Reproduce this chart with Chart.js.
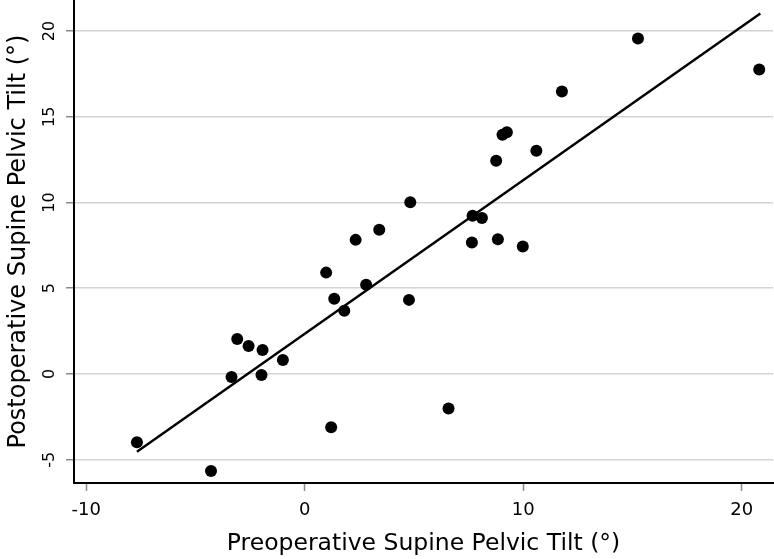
<!DOCTYPE html>
<html>
<head>
<meta charset="utf-8">
<script src="https://cdn.jsdelivr.net/npm/chart.js@4.4.1/dist/chart.umd.min.js"></script>
<style>
  html, body { margin: 0; padding: 0; background: #ffffff; }
  #wrap { width: 774px; height: 559px; }
</style>
</head>
<body>
<div id="wrap"><canvas id="myChart" width="774" height="559"></canvas></div>
<script>
// Preoperative vs postoperative supine pelvic tilt (degrees)
const preTilt = [4.83, 3.41, 2.33, 15.25, 20.8, 11.77, 9.05, 9.25, 10.6, 8.76,
                 7.68, 8.11, 7.65, 8.84, 9.98, 0.98, 2.81, 1.35, 1.81, 4.77,
                 -3.09, -2.57, -1.93, -1.0, -3.35, -1.98, 1.21, -7.68, -4.29, 6.58];
const postTilt = [10.02, 8.41, 7.82, 19.56, 17.75, 16.48, 13.95, 14.09, 13.02, 12.43,
                  9.22, 9.09, 7.67, 7.86, 7.43, 5.91, 5.20, 4.38, 3.68, 4.32,
                  2.04, 1.63, 1.40, 0.82, -0.18, -0.06, -3.11, -3.99, -5.66, -2.02];
// fitted line end points
const fitX = [-7.68, 20.85];
const fitY = [-4.54, 21.02];
const xTicks = [-10, 0, 10, 20];
const yTicks = [-5, 0, 5, 10, 15, 20];

const points = preTilt.map((x, i) => ({x: x, y: postTilt[i]}));
const fitLine = fitX.map((x, i) => ({x: x, y: fitY[i]}));

const ctx = document.getElementById('myChart').getContext('2d');
new Chart(ctx, {
    type: 'scatter',
    data: {
        datasets: [{
            type: 'line',
            data: fitLine,
            borderColor: '#000000',
            borderWidth: 2.4,
            pointRadius: 0,
            fill: false
        }, {
            data: points,
            backgroundColor: '#000000',
            borderWidth: 0,
            pointRadius: 6,
            pointHoverRadius: 6
        }]
    },
    options: {
        responsive: false,
        animation: false,
        events: [],
        layout: { autoPadding: false, padding: { left: 0, right: 1, top: 0, bottom: 0 } },
        plugins: {
            legend: { display: false },
            tooltip: { enabled: false }
        },
        scales: {
            x: {
                type: 'linear',
                min: -10.56,
                max: 21.43,
                afterFit: function(scale) {
                    scale.height = 76;
                    scale.paddingLeft = 0;
                    scale.paddingRight = 0;
                },
                afterBuildTicks: function(scale) {
                    scale.ticks = xTicks.map(v => ({value: v}));
                },
                border: { display: true, color: '#000000', width: 2 },
                grid: {
                    drawOnChartArea: false,
                    drawTicks: true,
                    tickLength: 8,
                    tickColor: '#8a8a8a',
                    tickWidth: 1.5
                },
                ticks: {
                    color: '#000000',
                    padding: 9,
                    maxRotation: 0,
                    font: { family: 'DejaVu Sans', size: 18 }
                },
                title: {
                    display: true,
                    text: 'Preoperative Supine Pelvic Tilt (°)',
                    color: '#000000',
                    font: { family: 'DejaVu Sans', size: 23.5, lineHeight: 1 },
                    padding: { top: 0, bottom: 3 }
                }
            },
            y: {
                type: 'linear',
                min: -6.36,
                max: 21.81,
                afterFit: function(scale) {
                    scale.width = 74;
                    scale.paddingTop = 0;
                    scale.paddingBottom = 0;
                },
                afterBuildTicks: function(scale) {
                    scale.ticks = yTicks.map(v => ({value: v}));
                },
                border: { display: true, color: '#000000', width: 2 },
                grid: {
                    color: '#d4d4d4',
                    lineWidth: 1.5,
                    drawTicks: true,
                    tickLength: 8,
                    tickColor: '#8a8a8a',
                    tickWidth: 1.5
                },
                ticks: {
                    color: '#000000',
                    padding: 6,
                    minRotation: 90,
                    maxRotation: 90,
                    crossAlign: 'center',
                    font: { family: 'DejaVu Sans', size: 16 }
                },
                title: {
                    display: true,
                    text: 'Postoperative Supine Pelvic Tilt (°)',
                    color: '#000000',
                    font: { family: 'DejaVu Sans', size: 24, lineHeight: 1 },
                    padding: { top: 7, bottom: 0 }
                }
            }
        }
    }
});
</script>
</body>
</html>
